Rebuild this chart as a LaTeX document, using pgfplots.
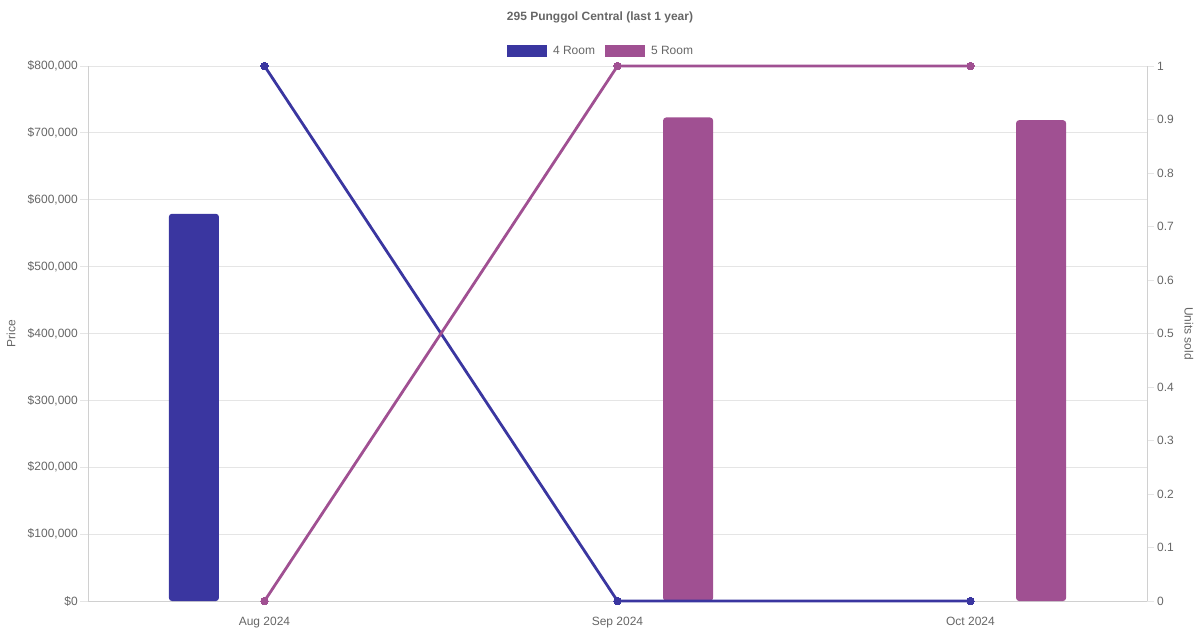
\documentclass[border=0pt]{standalone}
\usepackage{pgfplots}
\pgfplotsset{compat=1.18}
\usepackage{fontspec}
\setmainfont{Liberation Sans}
\definecolor{c4}{HTML}{3A36A0}
\definecolor{c5}{HTML}{A05092}
\definecolor{txt}{HTML}{666666}
\definecolor{gridc}{HTML}{E5E5E5}
\definecolor{axc}{HTML}{D0D0D0}
\begin{document}
\begin{tikzpicture}[x=1pt,y=1pt]
\path (0,0) rectangle (1200,630);
\node[font=\bfseries\fontsize{12}{14}\selectfont, text=txt] at (600,613) {295 Punggol Central (last 1 year)};
\begin{axis}[
  at={(88pt,29pt)}, anchor=south west,
  scale only axis, width=1059pt, height=535pt,
  xmin=-0.5, xmax=2.5, ymin=0, ymax=800000,
  scaled y ticks=false,
  axis x line*=bottom, axis y line*=left,
  axis line style={draw=axc, line width=0.8pt},
  xtick={0,1,2}, xticklabels={Aug 2024,Sep 2024,Oct 2024},
  x tick style={draw=none},
  ytick={0,100000,...,800000},
  yticklabels={\$0,{\$100,000},{\$200,000},{\$300,000},{\$400,000},{\$500,000},{\$600,000},{\$700,000},{\$800,000}},
  y tick style={draw=gridc, line width=0.8pt},
  major tick length=8pt, tick align=outside,
  ymajorgrids, grid style={draw=gridc, line width=0.8pt},
  tick label style={font=\fontsize{12}{14}\selectfont, text=txt},
  yticklabel style={anchor=east, inner sep=0pt, xshift=-2pt},
  xticklabel style={anchor=base, inner sep=0pt, yshift=-16pt},
  ylabel={Price}, ylabel style={font=\fontsize{12}{14}\selectfont, text=txt, at={(rel axis cs:0,0.5)}, anchor=center, yshift=77pt},
  ybar, bar width=0.1416,
  legend style={at={(0.4835,1)}, anchor=center, yshift=15pt, draw=none, fill=none,
     font=\fontsize{12}{14}\selectfont, text=txt, legend columns=2,
     /tikz/every even column/.append style={column sep=10pt},
     /tikz/every odd column/.append style={column sep=6pt},
     nodes={inner sep=0pt}},
  legend image code/.code={\fill[#1, sharp corners] (0pt,-6pt) rectangle (40pt,6pt);},
]
\addplot[fill=c4, draw=none, bar shift=-0.2, rounded corners=3pt] coordinates {(0,579000)};
\addlegendentry{4 Room}
\addplot[fill=c5, draw=none, bar shift=0.2, rounded corners=3pt] coordinates {(1,723000) (2,719000)};
\addlegendentry{5 Room}
\end{axis}
\begin{axis}[
  at={(88pt,29pt)}, anchor=south west,
  scale only axis, width=1059pt, height=535pt,
  xmin=-0.5, xmax=2.5, ymin=0, ymax=1,
  axis x line=none, axis y line*=right,
  axis line style={draw=axc, line width=0.8pt},
  ytick={0,0.1,0.2,0.3,0.4,0.5,0.6,0.7,0.8,0.9,1},
  yticklabels={0,0.1,0.2,0.3,0.4,0.5,0.6,0.7,0.8,0.9,1},
  y tick style={draw=gridc, line width=0.8pt},
  major tick length=7pt, tick align=outside,
  tick label style={font=\fontsize{12}{14}\selectfont, text=txt},
  yticklabel style={anchor=west, inner sep=0pt, xshift=3pt},
  ylabel={Units sold}, ylabel style={font=\fontsize{12}{14}\selectfont, text=txt, at={(rel axis cs:1,0.5)}, anchor=center, rotate=180, yshift=42pt},
  clip=false,
]
\addplot[c4, line width=2.8pt, mark=*, mark size=3.8pt, mark options={fill=c4, draw=c4, line width=0pt}] coordinates {(0,1) (1,0) (2,0)};
\addplot[c5, line width=2.8pt, mark=*, mark size=3.8pt, mark options={fill=c5, draw=c5, line width=0pt}] coordinates {(0,0) (1,1) (2,1)};
\end{axis}
\end{tikzpicture}
\end{document}
